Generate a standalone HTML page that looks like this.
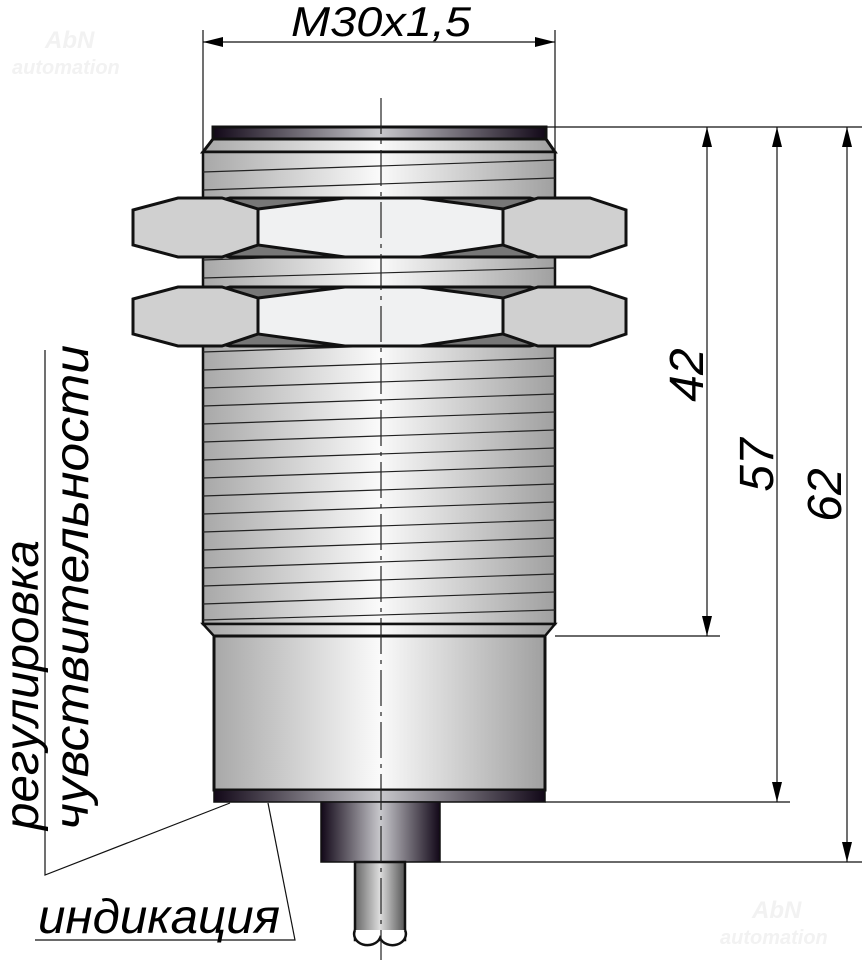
<!DOCTYPE html>
<html><head><meta charset="utf-8"><style>
html,body{margin:0;padding:0;background:#fff}
svg{display:block}
text{font-family:"Liberation Sans",sans-serif;font-style:italic}
</style></head><body>
<svg width="862" height="963" viewBox="0 0 862 963" xmlns="http://www.w3.org/2000/svg">
<defs>
<linearGradient id="m" x1="0" x2="1" y1="0" y2="0">
<stop offset="0" stop-color="#a8a8a8"/><stop offset="0.5" stop-color="#fafafa"/><stop offset="1" stop-color="#a0a0a0"/>
</linearGradient>
<linearGradient id="d" x1="0" x2="1" y1="0" y2="0">
<stop offset="0" stop-color="#120818"/><stop offset="0.5" stop-color="#c8c8cc"/><stop offset="1" stop-color="#120818"/>
</linearGradient>
<linearGradient id="c" x1="0" x2="1" y1="0" y2="0">
<stop offset="0" stop-color="#666"/><stop offset="0.5" stop-color="#ddd"/><stop offset="1" stop-color="#555"/>
</linearGradient>
<marker id="a" viewBox="0 0 20 10" refX="20" refY="5" markerWidth="20" markerHeight="10" markerUnits="userSpaceOnUse" orient="auto-start-reverse">
<path d="M0,0 L20,5 L0,10 Z" fill="#000"/></marker>
</defs>

<text x="45" y="48" font-size="24" fill="#f2f2f2" font-weight="bold" font-style="normal">AbN</text>
<text x="12" y="74" font-size="20" fill="#f2f2f2" font-weight="bold" font-style="normal">automation</text>
<text x="752" y="918" font-size="24" fill="#f2f2f2" font-weight="bold" font-style="normal">AbN</text>
<text x="720" y="944" font-size="20" fill="#f2f2f2" font-weight="bold" font-style="normal">automation</text>

<rect x="213" y="127" width="333" height="12" fill="url(#d)" stroke="#111" stroke-width="3"/>
<polygon points="213,139 546,139 555,152 203,152" fill="url(#m)" stroke="#111" stroke-width="3"/>
<rect x="203" y="152" width="352" height="472" fill="url(#m)" stroke="#111" stroke-width="2.5"/>
<g stroke="#222" stroke-width="1.2">
<line x1="203" y1="172" x2="555" y2="160"/><line x1="203" y1="190" x2="555" y2="178"/>
<line x1="203" y1="260" x2="555" y2="248"/><line x1="203" y1="278" x2="555" y2="268"/>
<line x1="203" y1="352" x2="555" y2="340"/><line x1="203" y1="370" x2="555" y2="358"/>
<line x1="203" y1="388" x2="555" y2="376"/><line x1="203" y1="406" x2="555" y2="394"/>
<line x1="203" y1="424" x2="555" y2="412"/><line x1="203" y1="442" x2="555" y2="430"/>
<line x1="203" y1="460" x2="555" y2="448"/><line x1="203" y1="478" x2="555" y2="466"/>
<line x1="203" y1="496" x2="555" y2="484"/><line x1="203" y1="514" x2="555" y2="502"/>
<line x1="203" y1="532" x2="555" y2="520"/><line x1="203" y1="550" x2="555" y2="538"/>
<line x1="203" y1="568" x2="555" y2="556"/><line x1="203" y1="586" x2="555" y2="574"/>
<line x1="203" y1="604" x2="555" y2="592"/><line x1="203" y1="620" x2="555" y2="610"/>
</g>
<polygon points="203,624 555,624 545,636 214,636" fill="url(#m)" stroke="#111" stroke-width="2.5"/>
<rect x="214" y="636" width="331" height="154" fill="url(#m)" stroke="#111" stroke-width="3"/>
<rect x="214" y="790" width="331" height="12" fill="url(#d)" stroke="#111" stroke-width="1.5"/>
<rect x="321" y="802" width="119" height="60" fill="url(#d)" stroke="#111" stroke-width="1.5"/>
<rect x="355" y="862" width="50" height="78" fill="url(#c)" stroke="#111" stroke-width="2.5"/>
<path d="M355,930 a12,10 0 0 0 25,8 a12,10 0 0 0 25,-8" fill="#fff" stroke="#111" stroke-width="2.5"/>

<g stroke="#111" stroke-width="3">
<g id="nut">
<polygon points="230,198 530,198 560,206 560,250 530,257 230,257 200,250 200,206" fill="#777"/>
<polygon points="133,210 178,198 222,198 258,209 258,245 222,257 178,257 133,245" fill="#d0d0d0"/>
<polygon points="258,209 345,198 420,198 503,209 503,245 420,257 345,257 258,245" fill="#f0f1f2"/>
<polygon points="503,209 538,198 590,198 626,210 626,245 590,257 538,257 503,245" fill="#d0d0d0"/>
</g>
<use href="#nut" y="89"/>
</g>

<line x1="381" y1="98" x2="381" y2="960" stroke="#222" stroke-width="1.2" stroke-dasharray="36,6,4,6"/>

<g stroke="#111" stroke-width="1.2" fill="none">
<line x1="203" y1="30" x2="203" y2="150"/><line x1="555" y1="30" x2="555" y2="150"/>
<line x1="203" y1="42" x2="555" y2="42" marker-start="url(#a)" marker-end="url(#a)"/>
<line x1="546" y1="127" x2="862" y2="127"/>
<line x1="555" y1="636" x2="720" y2="636"/>
<line x1="545" y1="802" x2="790" y2="802"/>
<line x1="440" y1="862" x2="862" y2="862"/>
<line x1="707" y1="127" x2="707" y2="636" marker-start="url(#a)" marker-end="url(#a)"/>
<line x1="777" y1="127" x2="777" y2="802" marker-start="url(#a)" marker-end="url(#a)"/>
<line x1="847" y1="127" x2="847" y2="862" marker-start="url(#a)" marker-end="url(#a)"/>
<polyline points="45,350 45,875 230,803"/>
<polyline points="35,940 295,940 268,803"/>
</g>
<text x="381" y="36" font-size="42" text-anchor="middle" textLength="180" lengthAdjust="spacingAndGlyphs">M30x1,5</text>
<text transform="translate(703,375) rotate(-90)" font-size="48" text-anchor="middle">42</text>
<text transform="translate(773,465) rotate(-90)" font-size="48" text-anchor="middle">57</text>
<text transform="translate(841,495) rotate(-90)" font-size="48" text-anchor="middle">62</text>
<text transform="translate(38,830) rotate(-90)" font-size="48" textLength="290" lengthAdjust="spacingAndGlyphs">регулировка</text>
<text transform="translate(88,830) rotate(-90)" font-size="48" textLength="485" lengthAdjust="spacingAndGlyphs">чувствительности</text>
<text x="38" y="933" font-size="48" textLength="242" lengthAdjust="spacingAndGlyphs">индикация</text>
</svg>
</body></html>
